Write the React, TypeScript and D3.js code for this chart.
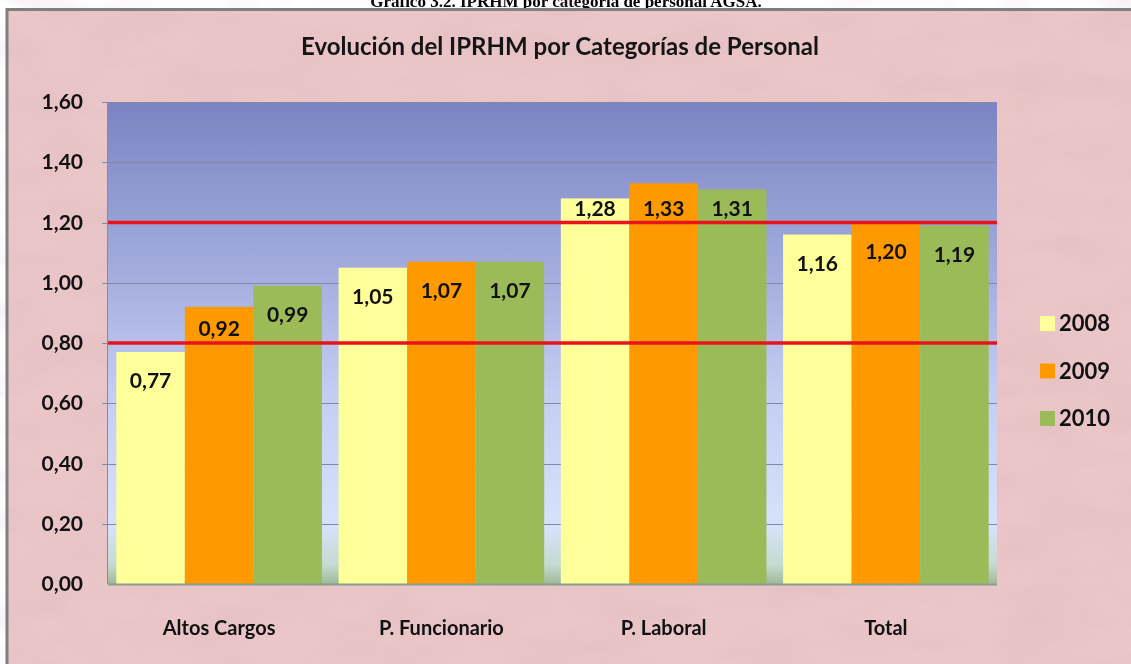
import { useEffect, useRef } from 'react';
import * as d3 from 'd3';

const categories = ['Altos Cargos', 'P. Funcionario', 'P. Laboral', 'Total'];
const years = ['2008', '2009', '2010'];
const values2008 = [0.77, 1.05, 1.28, 1.16];
const values2009 = [0.92, 1.07, 1.33, 1.2];
const values2010 = [0.99, 1.07, 1.31, 1.19];
const yTicks = [0, 0.2, 0.4, 0.6, 0.8, 1.0, 1.2, 1.4, 1.6];
const refLines = [0.8, 1.2];
const caption = 'Gráfico 3.2. IPRHM por categoría de personal AGSA.';
const title = 'Evolución del IPRHM por Categorías de Personal';

const colors = ['#ffff99', '#ff9900', '#9bbb59'];
const fontFamily = 'Lato, "Open Sans", sans-serif';
const fmt = (v: number) => d3.format('.2f')(v).replace('.', ',');

const App = () => {
  const svgRef = useRef<SVGSVGElement>(null);

  useEffect(() => {
    document.documentElement.style.overflow = 'hidden';
    document.body.style.overflow = 'hidden';

    const width = 1131;
    const height = 664;
    const plot = { left: 108, right: 997, top: 102, bottom: 584 };

    const svg = d3.select(svgRef.current);
    svg.selectAll('*').remove();
    svg.attr('width', width).attr('height', height);

    const defs = svg.append('defs');

    // marble-ish pink texture for the chart background
    const filter = defs.append('filter').attr('id', 'marble')
      .attr('filterUnits', 'userSpaceOnUse')
      .attr('x', 0).attr('y', 0).attr('width', width + 40).attr('height', height + 40);
    filter.append('feTurbulence').attr('type', 'fractalNoise').attr('baseFrequency', '0.012 0.03').attr('numOctaves', 4).attr('seed', 7).attr('result', 'noise');
    filter.append('feColorMatrix').attr('in', 'noise').attr('type', 'matrix')
      .attr('values', '0 0 0 0 0.6  0 0 0 0 0.4  0 0 0 0 0.43  0 0 0 0.8 -0.3');

    const grad = defs.append('linearGradient').attr('id', 'plotBg').attr('x1', 0).attr('y1', 0).attr('x2', 0).attr('y2', 1);
    [
      [0, '#7b84c1'],
      [0.35, '#a3acdd'],
      [0.6, '#c3cdf2'],
      [0.88, '#d6e2fb'],
      [0.96, '#c6dad0'],
      [1, '#9fb89a'],
    ].forEach(([o, c]) => grad.append('stop').attr('offset', o as number).attr('stop-color', c as string));

    // page caption (cut off at the top, as in the source page)
    svg.append('text')
      .attr('x', 566).attr('y', 7)
      .attr('text-anchor', 'middle')
      .attr('font-family', '"Liberation Serif", "Times New Roman", serif')
      .attr('font-weight', 'bold').attr('font-size', 17)
      .text(caption);

    // chart area with frame on left and top (the rest runs off the page)
    svg.append('rect').attr('x', 7).attr('y', 9).attr('width', width + 20).attr('height', height)
      .attr('fill', '#ebc6c9');
    svg.append('rect').attr('x', 7).attr('y', 9).attr('width', width + 20).attr('height', height)
      .attr('filter', 'url(#marble)').attr('opacity', 0.45);
    svg.append('path').attr('d', `M7,${height + 5}V9.5H${width + 10}`)
      .attr('fill', 'none').attr('stroke', '#7f7f7f').attr('stroke-width', 3);

    svg.append('text')
      .attr('x', 560).attr('y', 55)
      .attr('text-anchor', 'middle')
      .attr('font-family', fontFamily).attr('font-weight', 'bold').attr('font-size', 24)
      .attr('fill', '#151515')
      .text(title);

    const x0 = d3.scaleBand().domain(categories).range([plot.left, plot.right]).paddingInner(0.075).paddingOuter(0.0375);
    const x1 = d3.scaleBand().domain(years).range([0, x0.bandwidth()]);
    const y = d3.scaleLinear().domain([0, 1.6]).range([plot.bottom, plot.top]);

    svg.append('rect')
      .attr('x', plot.left).attr('y', plot.top)
      .attr('width', plot.right - plot.left).attr('height', plot.bottom - plot.top)
      .attr('fill', 'url(#plotBg)');

    svg.append('g').selectAll('line').data(yTicks.filter(t => t > 0)).join('line')
      .attr('x1', plot.left - 6).attr('x2', plot.right)
      .attr('y1', d => Math.round(y(d)) + 0.5).attr('y2', d => Math.round(y(d)) + 0.5)
      .attr('stroke', '#8088a6').attr('stroke-width', 1);

    const series = [values2008, values2009, values2010];
    const groups = svg.append('g').selectAll('g').data(categories).join('g')
      .attr('transform', c => `translate(${x0(c)},0)`);

    groups.selectAll('rect')
      .data((c, i) => years.map((yr, j) => ({ yr, v: series[j][i], color: colors[j] })))
      .join('rect')
      .attr('x', d => x1(d.yr)!)
      .attr('width', x1.bandwidth())
      .attr('y', d => y(d.v))
      .attr('height', d => y(0) - y(d.v))
      .attr('fill', d => d.color);

    // reference lines at 0.80 and 1.20
    svg.append('g').selectAll('line').data(refLines).join('line')
      .attr('x1', plot.left).attr('x2', plot.right)
      .attr('y1', d => y(d)).attr('y2', d => y(d))
      .attr('stroke', '#e8141c').attr('stroke-width', 3.5);

    // value labels sit inside the bar top, nudged above a red line if they would cross it
    const labelCenter = (v: number) => {
      const c = y(v) + 29;
      const hit = refLines.find(r => Math.abs(c - y(r)) < 16);
      return hit !== undefined ? Math.max(y(v) + 10, y(hit) - 14) : c;
    };

    groups.selectAll('text.val')
      .data((c, i) => years.map((yr, j) => ({ yr, v: series[j][i] })))
      .join('text')
      .attr('class', 'val')
      .attr('x', d => x1(d.yr)! + x1.bandwidth() / 2)
      .attr('y', d => labelCenter(d.v) + 7)
      .attr('text-anchor', 'middle')
      .attr('font-family', fontFamily).attr('font-weight', 'bold').attr('font-size', 21)
      .attr('fill', '#111')
      .text(d => fmt(d.v));

    // axes
    svg.append('line').attr('x1', plot.left - 0.5).attr('x2', plot.left - 0.5)
      .attr('y1', plot.top).attr('y2', plot.bottom).attr('stroke', '#8c8c8c');
    svg.append('line').attr('x1', plot.left).attr('x2', plot.right)
      .attr('y1', plot.bottom + 0.5).attr('y2', plot.bottom + 0.5).attr('stroke', '#8c9a90').attr('stroke-width', 2);

    svg.append('g').selectAll('text').data(yTicks).join('text')
      .attr('x', 83).attr('y', d => y(d) + 7)
      .attr('text-anchor', 'end')
      .attr('font-family', fontFamily).attr('font-weight', 'bold').attr('font-size', 21)
      .attr('fill', '#111')
      .text(d => fmt(d));

    svg.append('g').selectAll('text').data(categories).join('text')
      .attr('x', c => x0(c)! + x0.bandwidth() / 2).attr('y', 635)
      .attr('text-anchor', 'middle')
      .attr('font-family', fontFamily).attr('font-weight', 'bold').attr('font-size', 20)
      .attr('fill', '#111')
      .text(c => c);

    // legend
    const legend = svg.append('g').selectAll('g').data(years).join('g')
      .attr('transform', (d, i) => `translate(1040, ${323 + i * 47.5})`);
    legend.append('rect').attr('x', 0).attr('y', -7).attr('width', 15).attr('height', 15)
      .attr('fill', (d, i) => colors[i]);
    legend.append('text').attr('x', 19).attr('y', 8)
      .attr('font-family', fontFamily).attr('font-weight', 'bold').attr('font-size', 22)
      .attr('fill', '#111')
      .text(d => d);
  }, []);

  return (
    <div style={{ position: 'fixed', left: 0, top: 0, width: 1131, height: 664, overflow: 'hidden' }}>
      <svg ref={svgRef} style={{ display: 'block' }} />
    </div>
  );
};

export default App;
